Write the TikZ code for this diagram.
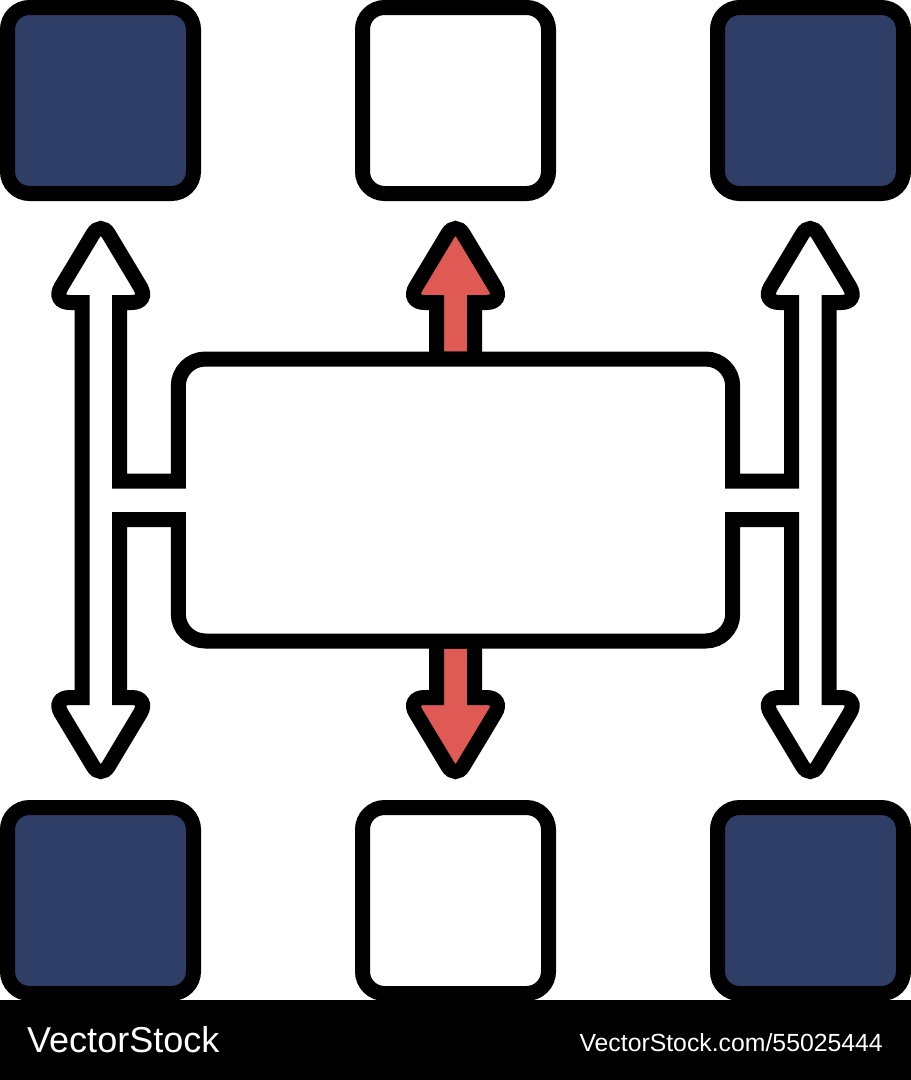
\documentclass[tikz,border=0pt]{standalone}
\usepackage{fontspec}
\setmainfont{Liberation Sans}
\definecolor{navy}{HTML}{2F3E66}
\definecolor{arrowred}{HTML}{E05A55}
\tikzset{
    block/.style={draw=black, line width=15pt, rounded corners=22pt, minimum size=186pt, inner sep=0pt},
    outline/.style={draw=black, line width=15pt},
    barb/.style={rounded corners=18pt},
    tip/.style={rounded corners=15pt},
    brand/.style={text=white, inner sep=0pt}
}

\begin{document}
\begin{tikzpicture}[x=1pt,y=-1pt]
    \useasboundingbox (0,0) rectangle (911,1080);
    \node[block, fill=navy] (topleft) at (100.5,100.5) {};
    \node[block, fill=white] (topmid) at (455.5,100.5) {};
    \node[block, fill=navy] (topright) at (810.5,100.5) {};
    \node[block, fill=navy] (botleft) at (100.5,900.5) {};
    \node[block, fill=white] (botmid) at (455.5,900.5) {};
    \node[block, fill=navy] (botright) at (810.5,900.5) {};
    % red arrows, tucked under the box
    \draw[outline, fill=arrowred] (436.5,359) -- (436.5,302.5) [barb] -- (406.5,302.5) [tip] -- (455.5,221) [barb] -- (504.5,302.5) [sharp corners] -- (474.5,302.5) -- (474.5,359) -- cycle;
    \draw[outline, fill=arrowred] (436.5,641) -- (436.5,697.5) [barb] -- (406.5,697.5) [tip] -- (455.5,779) [barb] -- (504.5,697.5) [sharp corners] -- (474.5,697.5) -- (474.5,641) -- cycle;
    % box and the two double arrows are one outline
    \draw[outline, fill=white] (455.5,359)
        [rounded corners=27pt] -- (732.7,359)
        [sharp corners] -- (732.7,481) -- (791.5,481) -- (791.5,302.5)
        [barb] -- (761.3,302.5) [tip] -- (810.2,221) [barb] -- (859.2,302.5)
        [sharp corners] -- (829,302.5) -- (829,697.5)
        [barb] -- (859.2,697.5) [tip] -- (810.2,779) [barb] -- (761.3,697.5)
        [sharp corners] -- (791.5,697.5) -- (791.5,519.5) -- (732.7,519.5)
        [rounded corners=27pt] -- (732.7,641) -- (178.3,641)
        [sharp corners] -- (178.3,519.5) -- (119.5,519.5) -- (119.5,697.5)
        [barb] -- (149.7,697.5) [tip] -- (100.8,779) [barb] -- (51.8,697.5)
        [sharp corners] -- (82,697.5) -- (82,302.5)
        [barb] -- (51.8,302.5) [tip] -- (100.8,221) [barb] -- (149.7,302.5)
        [sharp corners] -- (119.5,302.5) -- (119.5,481) -- (178.3,481)
        [rounded corners=27pt] -- (178.3,359) -- cycle;
    % footer
    \fill[black] (0,1000) rectangle (911,1080);
    \node[brand, anchor=base west, font=\fontsize{36}{36}\selectfont] (logo) at (27,1052) {VectorStock};
    \node[brand, anchor=base east, font=\fontsize{24.8}{26}\selectfont] (stockid) at (883,1051) {VectorStock.com/55025444};
\end{tikzpicture}
\end{document}
